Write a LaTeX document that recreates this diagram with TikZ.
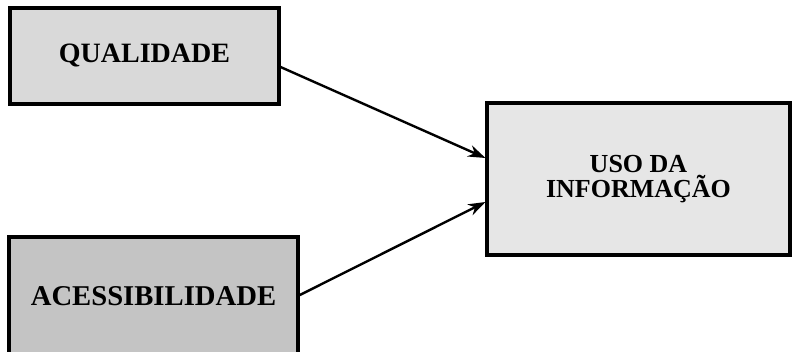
\documentclass[tikz,border=0pt]{standalone}
\usepackage{fontspec}
\setmainfont{Liberation Serif}
\usetikzlibrary{arrows.meta}
\definecolor{fillA}{HTML}{D9D9D9}
\definecolor{fillB}{HTML}{C4C4C4}
\definecolor{fillC}{HTML}{E6E6E6}
\tikzset{
  boxnode/.style={draw=black, line width=2.3pt, align=center, inner sep=0pt, font=\bfseries},
  conn/.style={line width=1.8pt, -{Stealth[length=13pt,width=9pt]}},
}
\begin{document}
\begin{tikzpicture}[x=0.75pt,y=-0.75pt]
\useasboundingbox (0,0) rectangle (794,352);
\clip (0,0) rectangle (794,352);
\fill[white] (0,0) rectangle (794,352);
\node[boxnode, fill=fillA, minimum width=201.75pt, minimum height=72pt, font=\bfseries\fontsize{21}{23}\selectfont] (q) at (144.5,56) {QUALIDADE};
\node[boxnode, fill=fillB, minimum width=216.75pt, minimum height=89.25pt, font=\bfseries\fontsize{21.5}{23}\selectfont] (a) at (153.5,296.5) {\raisebox{1pt}{ACESSIBILIDADE}};
\node[boxnode, fill=fillC, minimum width=227.25pt, minimum height=114pt, font=\bfseries\fontsize{19.5}{19}\selectfont] (u) at (638.5,179) {USO DA\\INFORMAÇÃO};
\draw[conn] ([yshift=-8.25pt]q.east) -- ([yshift=15.75pt]u.west);
\draw[conn] ([yshift=1pt]a.east) -- ([yshift=-17.25pt]u.west);
\end{tikzpicture}
\end{document}
